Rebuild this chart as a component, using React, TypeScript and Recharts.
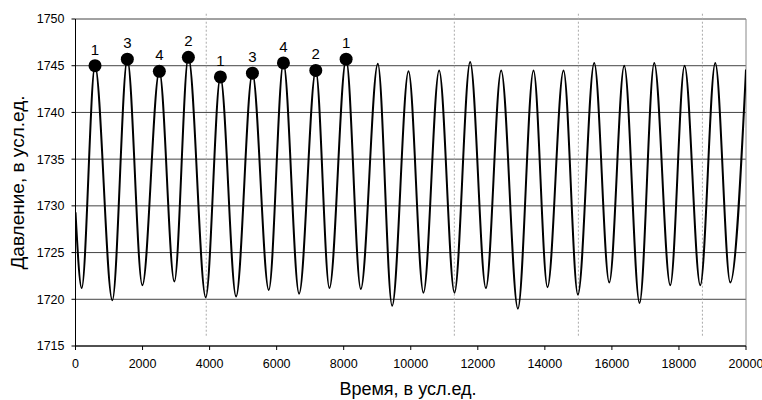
import {
  ComposedChart,
  Line,
  Scatter,
  XAxis,
  YAxis,
  CartesianGrid,
  ReferenceLine,
  Label,
} from 'recharts'

if (typeof document !== 'undefined') document.body.style.margin = '0'

// waveform extremes
const startPoint = { t: 0, v: 1729.3 }
const endPoint = { t: 20000, v: 1744.6 }

const peakT = [582, 1546, 2501, 3367, 4322, 5277, 6202, 7167, 8072, 9018, 9933, 10847, 11772, 12697, 13662, 14557, 15473, 16368, 17263, 18168, 19083]
const peakV = [1745.0, 1745.7, 1744.4, 1745.9, 1743.8, 1744.2, 1745.3, 1744.5, 1745.7, 1745.2, 1744.4, 1744.5, 1745.4, 1744.5, 1744.5, 1744.5, 1745.3, 1745.0, 1745.3, 1745.0, 1745.3]

const troughT = [185, 1099, 1994, 2949, 3885, 4790, 5765, 6670, 7574, 8510, 9445, 10379, 11304, 12241, 13196, 14079, 14986, 15921, 16825, 17741, 18636, 19531]
const troughV = [1721.2, 1719.9, 1721.5, 1721.9, 1720.2, 1720.3, 1721.0, 1720.6, 1721.2, 1721.1, 1719.3, 1720.7, 1720.7, 1721.2, 1719.0, 1721.3, 1720.5, 1721.8, 1719.6, 1721.5, 1721.5, 1721.8]

// numbered markers on the first nine peaks
const markerLabels = ['1', '3', '4', '2', '1', '3', '4', '2', '1']

// dotted vertical separators
const dividerT = [3900, 11300, 15000, 18700]

const xTicks = [0, 2000, 4000, 6000, 8000, 10000, 12000, 14000, 16000, 18000, 20000]
const yTicks = [1715, 1720, 1725, 1730, 1735, 1740, 1745, 1750]

const wave = [
  startPoint,
  ...peakT.map((t, i) => ({ t, v: peakV[i] })),
  ...troughT.map((t, i) => ({ t, v: troughV[i] })),
  endPoint,
].sort((a, b) => a.t - b.t)

const markers = markerLabels.map((label, i) => ({ t: peakT[i], v: peakV[i], label }))

const FONT = 'Arial, "Liberation Sans", sans-serif'

const MarkerShape = (props: any) => {
  const { cx, cy, payload } = props
  return (
    <g>
      <circle cx={cx} cy={cy} r={6.5} fill='#000' />
      <text x={cx} y={cy - 11} textAnchor='middle' fontSize={15} fontFamily={FONT} fill='#000'>
        {payload.label}
      </text>
    </g>
  )
}

export default function App() {
  return (
    <ComposedChart width={762} height={400} margin={{ top: 19, right: 16, bottom: 24, left: 0 }}>
      <CartesianGrid vertical={false} stroke='#444' />
      <XAxis
        type='number'
        dataKey='t'
        domain={[0, 20000]}
        ticks={xTicks}
        interval={0}
        height={30}
        tickSize={4}
        tickMargin={9}
        axisLine={{ stroke: '#000' }}
        tickLine={{ stroke: '#000' }}
        tick={{ fill: '#000', fontSize: 12.5, fontFamily: FONT }}
        allowDataOverflow
      >
        <Label
          content={() => (
            <text x={408} y={395} textAnchor='middle' fontSize={18} fontFamily={FONT} fill='#000'>
              Время, в усл.ед.
            </text>
          )}
        />
      </XAxis>
      <YAxis
        type='number'
        domain={[1715, 1750]}
        ticks={yTicks}
        width={75.5}
        tickSize={4}
        tickMargin={7}
        axisLine={{ stroke: '#000' }}
        tickLine={{ stroke: '#000' }}
        tick={{ fill: '#000', fontSize: 12.5, fontFamily: FONT }}
        allowDataOverflow
      >
        <Label
          content={() => (
            <text
              x={17}
              y={182.5}
              transform='rotate(-90 17 182.5)'
              textAnchor='middle'
              dominantBaseline='central'
              fontSize={19}
              fontFamily={FONT}
              fill='#000'
            >
              Давление, в усл.ед.
            </text>
          )}
        />
      </YAxis>
      <ReferenceLine x={20000} stroke='#888' />
      {dividerT.map((t) => (
        <ReferenceLine
          key={t}
          segment={[{ x: t, y: 1716.1 }, { x: t, y: 1750.7 }]}
          ifOverflow='visible'
          stroke='#aaa'
          strokeDasharray='2 2'
        />
      ))}
      <Line
        data={wave}
        dataKey='v'
        type='monotone'
        stroke='#000'
        strokeWidth={2}
        dot={false}
        activeDot={false}
        isAnimationActive={false}
      />
      <Scatter data={markers} dataKey='v' shape={MarkerShape} isAnimationActive={false} />
    </ComposedChart>
  )
}
